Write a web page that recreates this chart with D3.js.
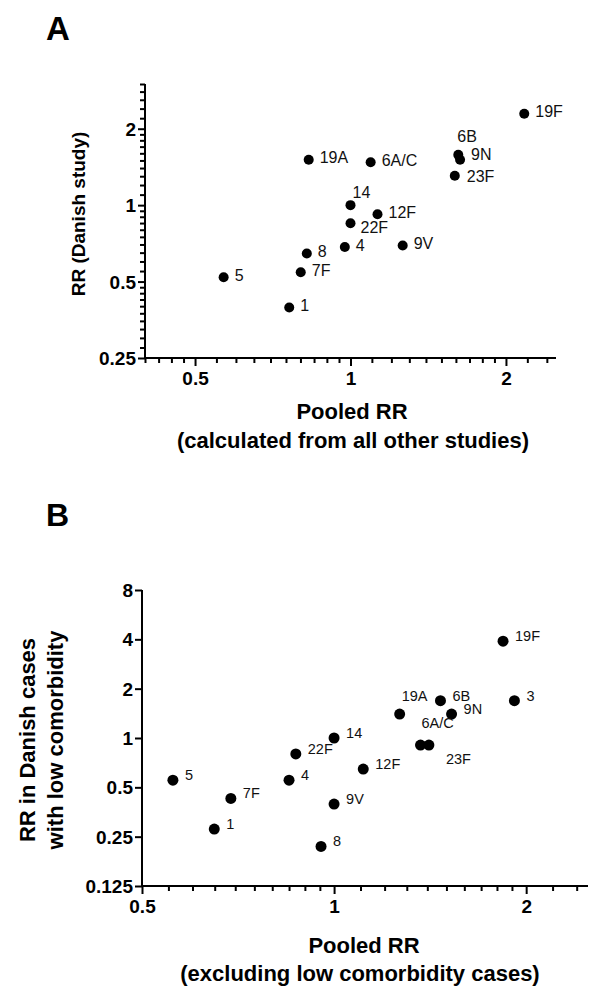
<!DOCTYPE html>
<html>
<head>
<meta charset="utf-8">
<script src="https://cdn.jsdelivr.net/npm/d3@7"></script>
<style>
  body { margin: 0; background: #fff; }
  svg { font-family: "Liberation Sans", Arial, sans-serif; }
  .tick text { font-weight: bold; font-size: 19px; fill: #000; }
  .domain, .tick line { stroke: #000; stroke-width: 2; }
</style>
</head>
<body>
<svg class="canvas" width="590" height="987"></svg>
<script>
// Panel A: Danish study vs pooled RR from all other studies
var serotypesA = ["1", "4", "5", "6A/C", "6B", "7F", "8", "9N", "9V", "12F", "14", "19A", "19F", "22F", "23F"]
var pooledA    = [0.761, 0.975, 0.568, 1.094, 1.617, 0.801, 0.823, 1.63, 1.262, 1.128, 1.0, 0.83, 2.17, 1.0, 1.592]
var danishA    = [0.395, 0.684, 0.52, 1.476, 1.578, 0.544, 0.645, 1.51, 0.694, 0.921, 1.0, 1.51, 2.29, 0.849, 1.306]

// Panel B: Danish low comorbidity cases vs pooled RR
var serotypesB = ["1", "3", "4", "5", "6A/C", "6B", "7F", "8", "9N", "9V", "12F", "14", "19A", "19F", "22F", "23F"]
var pooledB    = [0.649, 1.917, 0.85, 0.559, 1.366, 1.468, 0.689, 0.954, 1.528, 1.0, 1.111, 1.0, 1.267, 1.84, 0.871, 1.408]
var danishB    = [0.278, 1.69, 0.553, 0.553, 0.906, 1.69, 0.428, 0.218, 1.40, 0.395, 0.646, 1.0, 1.40, 3.9, 0.80, 0.906]

var xTicksA = [0.5, 1, 2]
var yTicksA = [0.25, 0.5, 1, 2]
var xTicksB = [0.5, 1, 2]
var yTicksB = [0.125, 0.25, 0.5, 1, 2, 4, 8]

// label nudges (dx, dy from the dot centre)
var offA = { "6B": [-1, -18], "14": [2, -13], "22F": [10, 4], "9N": [11, -5], "23F": [12, 1] }
var offB = { "19A": [2, -18], "6A/C": [1, -22], "23F": [17, 14] }

const canvas = d3.select('.canvas');

// minor ticks: tenths of each doubling, like the Prism log2 axis
function minors(lo, hi) {
    var out = []
    var base = Math.pow(2, Math.floor(Math.log2(lo)))
    while (base < hi) {
        for (var k = 1; k <= 9; k++) {
            var v = base * (1 + k / 10)
            if (v >= lo - 1e-9 && v <= hi + 1e-9) out.push(v)
        }
        base *= 2
    }
    return out
}

function fmt(v) { return String(v) }

function panel(opt) {
    var x = d3.scaleLog().base(2).domain(opt.xDom).range(opt.xRange)
    var y = d3.scaleLog().base(2).domain(opt.yDom).range(opt.yRange)
    var g = canvas.append("g")

    // x axis
    g.append("g")
        .attr("transform", "translate(0," + opt.yRange[0] + ")")
        .call(d3.axisBottom(x).tickValues(minors(opt.xDom[0], opt.xDom[1])).tickSize(5).tickSizeOuter(0).tickFormat(""))
        .select(".domain").remove()
    g.append("g")
        .attr("transform", "translate(0," + opt.yRange[0] + ")")
        .call(d3.axisBottom(x).tickValues(opt.xTicks).tickSize(8).tickSizeOuter(0).tickPadding(6).tickFormat(fmt))
        .select(".domain").attr("d", "M" + (opt.xRange[0] - 1) + ",0H" + opt.xRange[1])

    // y axis
    if (opt.yMinor) {
        g.append("g")
            .attr("transform", "translate(" + opt.xRange[0] + ",0)")
            .call(d3.axisLeft(y).tickValues(minors(opt.yDom[0], opt.yDom[1])).tickSize(5).tickSizeOuter(0).tickFormat(""))
            .select(".domain").remove()
    }
    g.append("g")
        .attr("transform", "translate(" + opt.xRange[0] + ",0)")
        .call(d3.axisLeft(y).tickValues(opt.yTicks).tickSize(7).tickSizeOuter(0).tickPadding(2).tickFormat(fmt))
        .select(".domain").attr("d", "M0," + (opt.yRange[0] + 1) + "V" + opt.yRange[1])

    g.selectAll(".tick text").attr("dy", function() {
        return d3.select(this.parentNode.parentNode).attr("transform").indexOf("translate(0") === 0 ? "0.71em" : "0.35em"
    })

    // points
    var pts = opt.names.map(function(n, i) { return { name: n, x: opt.xs[i], y: opt.ys[i] } })
    g.selectAll("circle").data(pts).enter().append("circle")
        .attr("cx", function(d) { return x(d.x) })
        .attr("cy", function(d) { return y(d.y) })
        .attr("r", opt.r)
        .attr("fill", "#000")

    g.selectAll("text.lbl").data(pts).enter().append("text")
        .attr("class", "lbl")
        .attr("x", function(d) { var o = opt.off[d.name] || opt.defOff; return x(d.x) + o[0] })
        .attr("y", function(d) { var o = opt.off[d.name] || opt.defOff; return y(d.y) + o[1] })
        .attr("dominant-baseline", "central")
        .attr("font-size", opt.lblSize)
        .attr("fill", "#111")
        .text(function(d) { return d.name })
}

panel({
    xDom: [0.4, 2.5], xRange: [145, 556],
    yDom: [0.25, 3], yRange: [358, 84],
    xTicks: xTicksA, yTicks: yTicksA, yMinor: true,
    names: serotypesA, xs: pooledA, ys: danishA,
    off: offA, defOff: [11, -2], r: 5, lblSize: 16
})

panel({
    xDom: [0.5, 2.5], xRange: [142, 588],
    yDom: [0.125, 8], yRange: [886, 590],
    xTicks: xTicksB, yTicks: yTicksB, yMinor: false,
    names: serotypesB, xs: pooledB, ys: danishB,
    off: offB, defOff: [12, -5], r: 5.5, lblSize: 14.5
})

// panel letters and titles
canvas.append("text").attr("x", 46).attr("y", 40).attr("font-size", 33).attr("font-weight", "bold").text("A")
canvas.append("text").attr("x", 46).attr("y", 526).attr("font-size", 32).attr("font-weight", "bold").text("B")

canvas.append("text")
    .attr("transform", "translate(85,214) rotate(-90)")
    .attr("text-anchor", "middle").attr("font-size", 19).attr("font-weight", "bold")
    .text("RR (Danish study)")

canvas.append("text").attr("x", 352).attr("y", 419)
    .attr("text-anchor", "middle").attr("font-size", 22).attr("font-weight", "bold")
    .text("Pooled RR")
canvas.append("text").attr("x", 353).attr("y", 448)
    .attr("text-anchor", "middle").attr("font-size", 22).attr("font-weight", "bold")
    .text("(calculated from all other studies)")

canvas.append("text")
    .attr("transform", "translate(35,740) rotate(-90)")
    .attr("text-anchor", "middle").attr("font-size", 22).attr("font-weight", "bold")
    .text("RR in Danish cases")
canvas.append("text")
    .attr("transform", "translate(63,740) rotate(-90)")
    .attr("text-anchor", "middle").attr("font-size", 22).attr("font-weight", "bold")
    .text("with low comorbidity")

canvas.append("text").attr("x", 364).attr("y", 953)
    .attr("text-anchor", "middle").attr("font-size", 22).attr("font-weight", "bold")
    .text("Pooled RR")
canvas.append("text").attr("x", 360).attr("y", 981)
    .attr("text-anchor", "middle").attr("font-size", 22).attr("font-weight", "bold")
    .text("(excluding low comorbidity cases)")
</script>
</body>
</html>
